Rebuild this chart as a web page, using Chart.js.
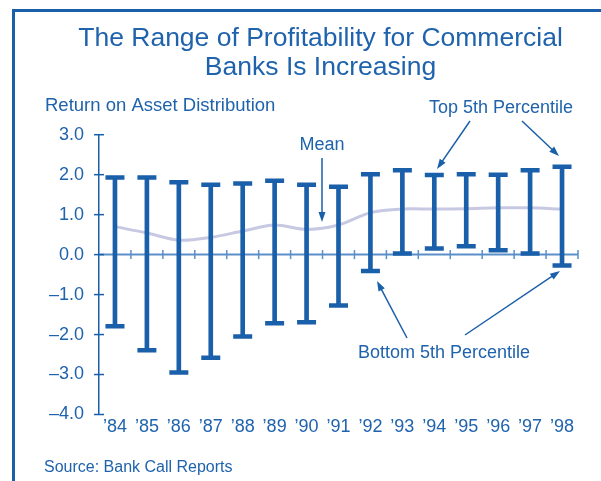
<!DOCTYPE html>
<html>
<head>
<meta charset="utf-8">
<script src="https://cdn.jsdelivr.net/npm/chart.js@4.4.0/dist/chart.umd.min.js"></script>
<style>
    html, body { margin: 0; padding: 0; background: #fff; }
    #wrap { width: 601px; height: 481px; position: relative; }
</style>
</head>
<body>
<div id="wrap"><canvas id="myChart"></canvas></div>
<script>
const years = ["’84", "’85", "’86", "’87", "’88", "’89", "’90", "’91", "’92", "’93", "’94", "’95", "’96", "’97", "’98"];
const top5 = [1.93, 1.93, 1.81, 1.75, 1.78, 1.85, 1.75, 1.70, 2.01, 2.11, 1.99, 2.01, 2.00, 2.11, 2.20];
const bottom5 = [-1.79, -2.39, -2.95, -2.58, -2.05, -1.72, -1.69, -1.27, -0.41, 0.03, 0.15, 0.21, 0.11, 0.03, -0.27];
const mean = [0.70, 0.54, 0.36, 0.43, 0.59, 0.74, 0.63, 0.74, 1.05, 1.14, 1.14, 1.15, 1.17, 1.17, 1.14];
const yTicks = [3, 2, 1, 0, -1, -2, -3, -4];

const FONT = "'Liberation Sans', Arial, sans-serif";
const BLUE = "#1a5fa9";
const TEXT = "#2063ad";
const ZERO = "#5a8fc8";
const MEAN = "#c7c9e3";

function arrow(ctx, x1, y1, x2, y2) {
    const a = Math.atan2(y2 - y1, x2 - x1);
    const len = 10, hw = 3.5;
    ctx.beginPath();
    ctx.moveTo(x1, y1);
    ctx.lineTo(x2 - Math.cos(a) * len * 0.8, y2 - Math.sin(a) * len * 0.8);
    ctx.stroke();
    ctx.beginPath();
    ctx.moveTo(x2, y2);
    ctx.lineTo(x2 - Math.cos(a) * len - Math.sin(a) * hw, y2 - Math.sin(a) * len + Math.cos(a) * hw);
    ctx.lineTo(x2 - Math.cos(a) * len + Math.sin(a) * hw, y2 - Math.sin(a) * len - Math.cos(a) * hw);
    ctx.closePath();
    ctx.fill();
}

// zero line, tick marks, frame and the labels with arrows
const decor = {
    id: "decor",
    beforeDatasetsDraw(chart) {
        const ctx = chart.ctx, area = chart.chartArea;
        const x = chart.scales.x, y = chart.scales.y;
        const y0 = y.getPixelForValue(0);
        ctx.save();
        ctx.strokeStyle = ZERO;
        ctx.lineWidth = 2;
        ctx.beginPath();
        ctx.moveTo(area.left, y0);
        ctx.lineTo(area.right, y0);
        ctx.stroke();
        ctx.lineWidth = 1.5;
        for (let i = 0; i < years.length; i++) {
            const bx = i < years.length - 1
                ? (x.getPixelForValue(i) + x.getPixelForValue(i + 1)) / 2
                : area.right;
            ctx.beginPath();
            ctx.moveTo(bx, y0 - 4.5);
            ctx.lineTo(bx, y0 + 4.5);
            ctx.stroke();
        }
        ctx.strokeStyle = BLUE;
        yTicks.forEach(function (v) {
            const py = y.getPixelForValue(v);
            ctx.beginPath();
            ctx.moveTo(area.left - 5, py);
            ctx.lineTo(area.left + 5, py);
            ctx.stroke();
        });
        ctx.restore();
    },
    afterDraw(chart) {
        const ctx = chart.ctx;
        ctx.save();
        // frame
        ctx.fillStyle = BLUE;
        ctx.fillRect(12, 9, 589, 3);
        ctx.fillRect(12, 9, 3, 472);

        ctx.fillStyle = TEXT;
        ctx.textBaseline = "alphabetic";
        ctx.font = "18.5px " + FONT;
        ctx.textAlign = "left";
        ctx.fillText("Return on Asset Distribution", 45, 111);
        ctx.font = "18px " + FONT;
        ctx.textAlign = "center";
        ctx.fillText("Top 5th Percentile", 501, 113);
        ctx.fillText("Mean", 322, 150);
        ctx.fillText("Bottom 5th Percentile", 444, 358);
        ctx.textAlign = "left";
        ctx.font = "16px " + FONT;
        ctx.fillText("Source: Bank Call Reports", 44, 472);

        ctx.strokeStyle = BLUE;
        ctx.fillStyle = BLUE;
        ctx.lineWidth = 1.5;
        arrow(ctx, 322, 158, 322, 222);
        arrow(ctx, 470, 121, 437, 169);
        arrow(ctx, 522, 121, 559, 156);
        arrow(ctx, 407, 338, 377, 281);
        arrow(ctx, 465, 335, 560, 271);
        ctx.restore();
    }
};

const ctx = document.getElementById("myChart");
new Chart(ctx, {
    type: "bar",
    data: {
        labels: years,
        datasets: [
            {
                type: "line",
                label: "Top 5th Percentile cap",
                data: top5,
                showLine: false,
                pointStyle: "line",
                pointRadius: 9.5,
                pointHoverRadius: 9.5,
                pointBorderWidth: 4.5,
                pointBorderColor: BLUE,
                order: 1
            },
            {
                type: "line",
                label: "Bottom 5th Percentile cap",
                data: bottom5,
                showLine: false,
                pointStyle: "line",
                pointRadius: 9.5,
                pointHoverRadius: 9.5,
                pointBorderWidth: 4.5,
                pointBorderColor: BLUE,
                order: 1
            },
            {
                type: "bar",
                label: "Range",
                data: bottom5.map(function (b, i) { return [b, top5[i]]; }),
                backgroundColor: BLUE,
                borderWidth: 0,
                barThickness: 4,
                order: 2
            },
            {
                type: "line",
                label: "Mean",
                data: mean,
                borderColor: MEAN,
                borderWidth: 3,
                pointRadius: 0,
                tension: 0.3,
                fill: false,
                order: 3
            }
        ]
    },
    options: {
        responsive: true,
        maintainAspectRatio: false,
        animation: false,
        layout: { padding: { left: 40, right: 0, top: 0, bottom: 0 } },
        plugins: {
            legend: { display: false },
            tooltip: { enabled: false },
            title: {
                display: true,
                text: ["The Range of Profitability for Commercial", "Banks Is Increasing"],
                color: TEXT,
                font: { family: FONT, size: 26.5, weight: "normal", lineHeight: 1.07 },
                padding: { top: 25, bottom: 53 }
            }
        },
        scales: {
            x: {
                offset: true,
                grid: { display: false, drawTicks: false },
                border: { display: false },
                ticks: {
                    color: TEXT,
                    padding: 2,
                    maxRotation: 0,
                    autoSkip: false,
                    font: { family: FONT, size: 18 }
                },
                afterFit: function (s) { s.height = 66.5; }
            },
            y: {
                min: -4,
                max: 3,
                grid: { display: false, drawTicks: false },
                border: { display: true, color: BLUE, width: 1.5 },
                ticks: {
                    stepSize: 1,
                    color: TEXT,
                    padding: 15,
                    font: { family: FONT, size: 18 },
                    callback: function (v) {
                        return (v < 0 ? "–" : "") + Math.abs(v).toFixed(1);
                    }
                },
                afterFit: function (s) { s.width = 59; }
            },
            pad: {
                position: "right",
                grid: { display: false, drawTicks: false },
                border: { display: false },
                ticks: { display: false },
                afterFit: function (s) { s.width = 23; }
            }
        }
    },
    plugins: [decor]
});
</script>
</body>
</html>
